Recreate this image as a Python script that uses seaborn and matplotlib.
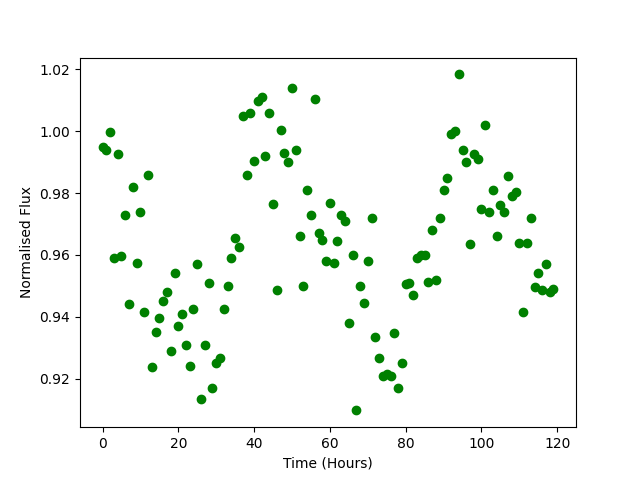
import numpy as np
import pandas as pd
import matplotlib
matplotlib.use("Agg")
import matplotlib.pyplot as plt
import seaborn as sns

# Observation times (hours) and normalised flux readings
hours = np.arange(120)
flux = [
    0.995, 0.994, 0.9997, 0.959, 0.9925, 0.9595, 0.973, 0.944, 0.982, 0.9575,
    0.974, 0.9415, 0.986, 0.9236, 0.935, 0.9395, 0.945, 0.948, 0.929, 0.954,
    0.937, 0.941, 0.931, 0.924, 0.9425, 0.957, 0.9135, 0.9307, 0.951, 0.917,
    0.925, 0.9265, 0.9425, 0.950, 0.959, 0.9655, 0.9627, 1.005, 0.986, 1.006,
    0.9905, 1.0097, 1.011, 0.992, 1.006, 0.9766, 0.9485, 1.0005, 0.993, 0.990,
    1.014, 0.9938, 0.966, 0.950, 0.981, 0.9728, 1.0106, 0.967, 0.9647, 0.958,
    0.9767, 0.9573, 0.9645, 0.973, 0.971, 0.938, 0.960, 0.9097, 0.9498, 0.9443,
    0.958, 0.9718, 0.9336, 0.9268, 0.9207, 0.9216, 0.9207, 0.9346, 0.9168, 0.925,
    0.9507, 0.951, 0.947, 0.959, 0.960, 0.9601, 0.9514, 0.968, 0.952, 0.972,
    0.981, 0.985, 0.999, 1.000, 1.0184, 0.9938, 0.990, 0.9634, 0.9928, 0.991,
    0.975, 1.002, 0.974, 0.981, 0.966, 0.976, 0.974, 0.9854, 0.979, 0.9805,
    0.9637, 0.9414, 0.964, 0.9718, 0.9495, 0.954, 0.9488, 0.957, 0.948, 0.949,
]

df = pd.DataFrame({"Time": hours, "Flux": flux})

fig, ax = plt.subplots(figsize=(6.4, 4.8), dpi=100)
sns.scatterplot(data=df, x="Time", y="Flux", color="green", edgecolor="green",
                s=36, linewidth=1, ax=ax)
ax.set_xlabel("Time (Hours)")
ax.set_ylabel("Normalised Flux")
plt.savefig("out.png")
